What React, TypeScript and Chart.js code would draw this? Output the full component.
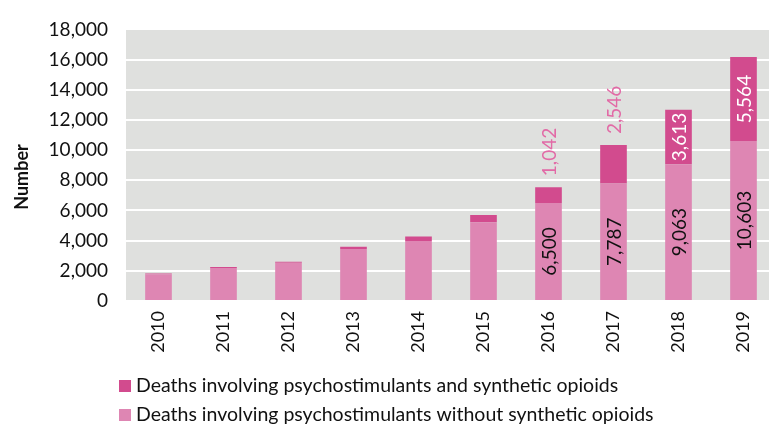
import React, { useEffect, useRef } from "react";
import { Chart, registerables } from "chart.js";

Chart.register(...registerables);

const years = ["2010", "2011", "2012", "2013", "2014", "2015", "2016", "2017", "2018", "2019"];
const withoutSynthetic = [1780, 2190, 2540, 3450, 3970, 5220, 6500, 7787, 9063, 10603];
const withSynthetic = [40, 60, 60, 150, 300, 480, 1042, 2546, 3613, 5564];
// which bars get value labels
const labelledFrom = 6;
const outsideDarkLabels = [6, 7];

const LIGHT = "#de86b3";
const DARK = "#d24b8e";
const LABEL_PINK = "#e26aa6";
const FONT = "Lato, 'Open Sans', sans-serif";

const fmt = (v: number) => v.toLocaleString("en-US");

const bgPlugin = {
  id: "bgPlugin",
  beforeDraw(chart: any) {
    const { ctx, chartArea } = chart;
    ctx.save();
    ctx.fillStyle = "#dfe0de";
    ctx.fillRect(chartArea.left, chartArea.top, chartArea.right - chartArea.left, chartArea.bottom - chartArea.top);
    ctx.restore();
  },
};

const labelPlugin = {
  id: "labelPlugin",
  afterDatasetsDraw(chart: any) {
    const { ctx } = chart;
    const lightMeta = chart.getDatasetMeta(0);
    const darkMeta = chart.getDatasetMeta(1);
    ctx.save();
    ctx.font = `19px ${FONT}`;
    ctx.textBaseline = "middle";
    for (let i = labelledFrom; i < years.length; i++) {
      const lb = lightMeta.data[i];
      const db = darkMeta.data[i];
      const lyc = (lb.y + lb.base) / 2;
      ctx.save();
      ctx.translate(lb.x, lyc);
      ctx.rotate(-Math.PI / 2);
      ctx.textAlign = "center";
      ctx.fillStyle = "#111";
      ctx.fillText(fmt(withoutSynthetic[i]), 0, 1);
      ctx.restore();
      ctx.save();
      if (outsideDarkLabels.includes(i)) {
        ctx.translate(db.x, db.y - 11);
        ctx.rotate(-Math.PI / 2);
        ctx.textAlign = "left";
        ctx.fillStyle = LABEL_PINK;
        ctx.fillText(fmt(withSynthetic[i]), 0, 1);
      } else {
        ctx.translate(db.x, (db.y + db.base) / 2);
        ctx.rotate(-Math.PI / 2);
        ctx.textAlign = "center";
        ctx.fillStyle = "#ffffff";
        ctx.fillText(fmt(withSynthetic[i]), 0, 1);
      }
      ctx.restore();
    }
    ctx.restore();
  },
};

const legendPlugin = {
  id: "customLegend",
  afterDraw(chart: any) {
    const { ctx } = chart;
    const items = [
      { label: chart.data.datasets[1].label, color: DARK },
      { label: chart.data.datasets[0].label, color: LIGHT },
    ];
    ctx.save();
    ctx.font = `19.5px ${FONT}`;
    ctx.textBaseline = "middle";
    ctx.textAlign = "left";
    items.forEach((it, k) => {
      const y = 386 + k * 29;
      ctx.fillStyle = it.color;
      ctx.fillRect(119, y - 6, 12, 12);
      ctx.fillStyle = "#111";
      ctx.fillText(it.label, 136, y);
    });
    // y axis title
    ctx.save();
    ctx.translate(22, 177);
    ctx.rotate(-Math.PI / 2);
    ctx.textAlign = "center";
    ctx.font = `bold 18px ${FONT}`;
    ctx.fillStyle = "#111";
    ctx.fillText("Number", 0, 0);
    ctx.restore();
    ctx.restore();
  },
};

export default function App() {
  const ref = useRef<HTMLCanvasElement | null>(null);
  useEffect(() => {
    if (!ref.current) return;
    const chart = new Chart(ref.current, {
      type: "bar",
      data: {
        labels: years,
        datasets: [
          {
            label: "Deaths involving psychostimulants without synthetic opioids",
            data: withoutSynthetic,
            backgroundColor: LIGHT,
            stack: "s",
          },
          {
            label: "Deaths involving psychostimulants and synthetic opioids",
            data: withSynthetic,
            backgroundColor: DARK,
            stack: "s",
          },
        ],
      },
      options: {
        responsive: false,
        animation: false,
        layout: { padding: { top: 24, right: 4, bottom: 66, left: 0 } },
        datasets: { bar: { categoryPercentage: 1, barPercentage: 0.41 } },
        plugins: {
          legend: { display: false },
          tooltip: { enabled: false },
        },
        scales: {
          x: {
            stacked: true,
            grid: { display: false },
            border: { display: false },
            ticks: {
              color: "#111",
              font: { family: FONT, size: 18 },
              minRotation: 90,
              maxRotation: 90,
              padding: 2,
            },
            afterFit(scale: any) {
              scale.height = 60;
            },
          },
          y: {
            stacked: true,
            min: 0,
            max: 18000,
            grid: { color: "#ffffff", lineWidth: 2, drawTicks: false },
            border: { display: false },
            ticks: {
              stepSize: 2000,
              color: "#111",
              font: { family: FONT, size: 19 },
              padding: 18,
              callback: (v: any) => fmt(Number(v)),
            },
            afterFit(scale: any) {
              scale.width = 126;
            },
          },
        },
      },
      plugins: [bgPlugin, labelPlugin, legendPlugin],
    });
    return () => chart.destroy();
  }, []);
  return (
    <div style={{ position: "fixed", left: 0, top: 0, width: 769, height: 427, overflow: "hidden", background: "#fff" }}>
      <canvas ref={ref} width={780} height={427} style={{ display: "block" }} />
    </div>
  );
}
